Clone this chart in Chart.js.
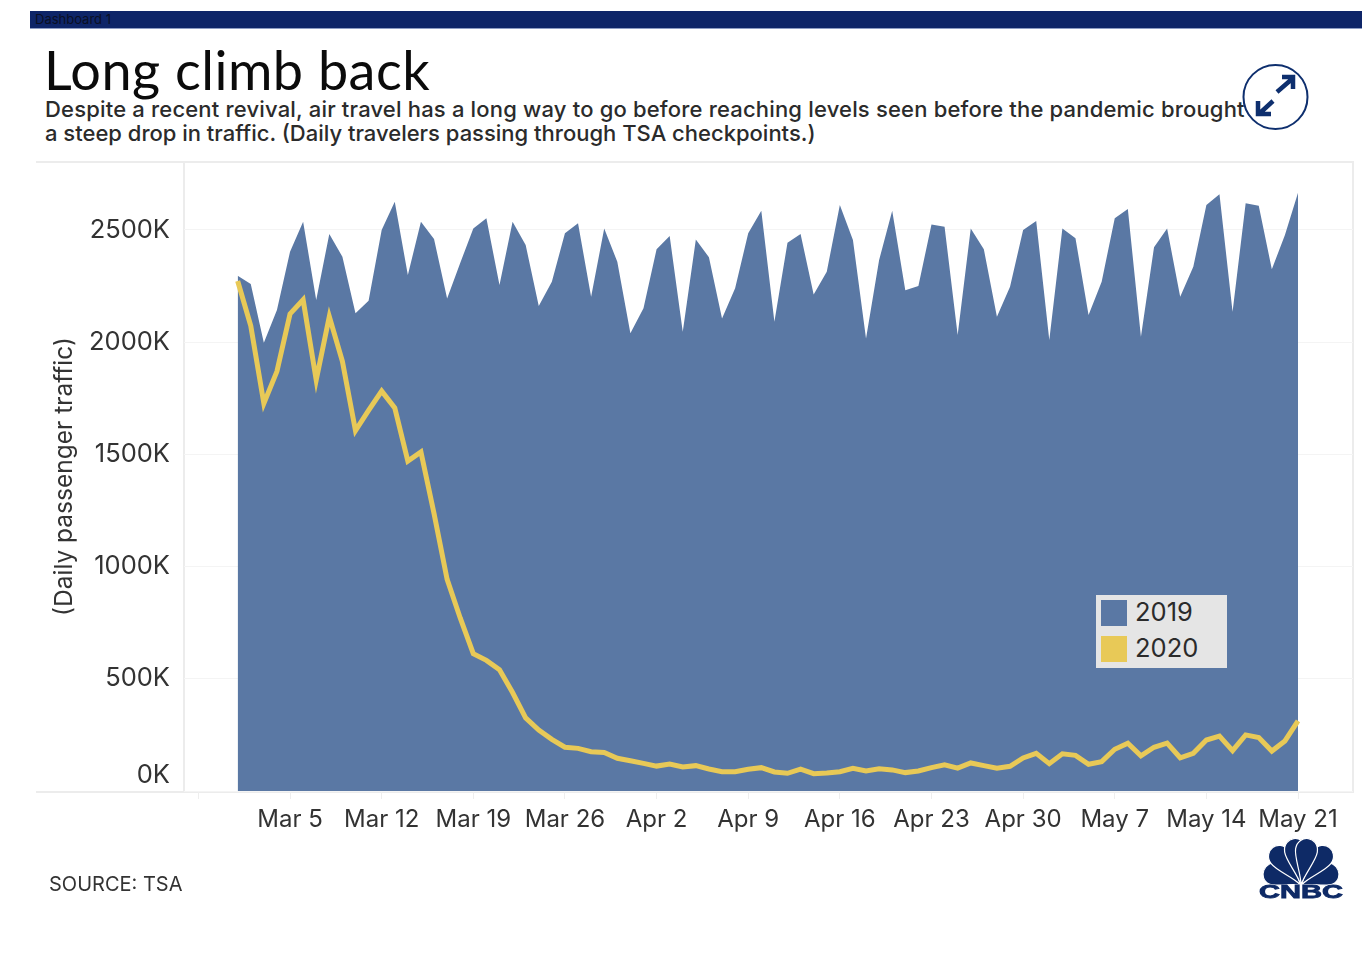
<!DOCTYPE html>
<html>
<head>
<meta charset="utf-8">
<title>Long climb back</title>
<script src="https://cdn.jsdelivr.net/npm/chart.js@4"></script>
<style>
  body { margin: 0; background: #fff; font-family: Inter, sans-serif; }
  #page { position: relative; width: 1370px; height: 962px; overflow: hidden; }
  #page > * { position: absolute; }
  #bar { left: 30px; top: 11px; width: 1332px; height: 17px; background: #0e2568; border-bottom: 1px solid #8d9cc4;
         color: #0a0f24; font-size: 13px; line-height: 16px; text-indent: 5px; }
  #title { left: 44px; top: 40px; font-family: Lato, sans-serif; font-size: 54px; letter-spacing: .5px; line-height: 60px; color: #0b0b0b; }
  #sub { left: 45px; top: 98px; font-size: 22px; line-height: 23.5px; font-weight: 500; color: #2b2b2b; white-space: nowrap; }
  #sub span { letter-spacing: .18px; }
  #source { left: 49px; top: 872px; font-size: 20px; line-height: 24px; color: #333; }
  .line { background: #ececec; }
  #chart { left: 0; top: 0; }
  #legend { left: 1096px; top: 595px; width: 131px; height: 73px; background: #e5e5e5; }
  #legend div { position: absolute; left: 39px; font-size: 25.5px; line-height: 34px; color: #2b2b2b; }
  #legend span { position: absolute; left: -34px; top: 5px; width: 26px; height: 26px; }
</style>
</head>
<body>
<div id="page">
  <div id="bar">Dashboard 1</div>
  <div id="title">Long climb back</div>
  <div id="sub"><span>Despite a recent revival, air travel has a long way to go before reaching levels seen before the pandemic brought</span><br>a steep drop in traffic. (Daily travelers passing through TSA checkpoints.)</div>
  <div class="line" style="left:36px;top:161px;width:1318px;height:2px"></div>
  <div class="line" style="left:36px;top:791px;width:1318px;height:2px"></div>
  <div class="line" style="left:183px;top:161px;width:2px;height:632px"></div>
  <div class="line" style="left:1352px;top:161px;width:2px;height:632px"></div>
  <canvas id="chart" width="1370" height="962"></canvas>
  <div id="legend"></div>
  <div id="source">SOURCE: TSA</div>
  <svg style="left:1240px;top:62px" width="72" height="70" viewBox="0 0 72 70">
    <circle cx="35.5" cy="35" r="32" fill="none" stroke="#0e2f6e" stroke-width="2"/>
    <path d="M37 30 L52 17 M42 15 H53 V27 M33 39 L20 51 M18 39 V52 H31" fill="none" stroke="#0e2f6e" stroke-width="4.5"/>
  </svg>
  <svg style="left:1256px;top:835px" width="90" height="66" viewBox="0 0 90 66">
    <defs>
      <path id="feather" d="M0 0 C-2 -12 -11 -26 -11 -35 C-11 -43 -5 -47 0 -47 C5 -47 11 -43 11 -35 C11 -26 2 -12 0 0 Z"/>
    </defs>
    <g fill="#0e2a66" stroke="#fff" stroke-width="1.2">
      <use href="#feather" transform="translate(45 50) rotate(-68) scale(1 .85)"/>
      <use href="#feather" transform="translate(45 50) rotate(68) scale(1 .85)"/>
      <use href="#feather" transform="translate(45 50) rotate(-37)"/>
      <use href="#feather" transform="translate(45 50) rotate(37)"/>
      <use href="#feather" transform="translate(45 50) rotate(-9)"/>
      <use href="#feather" transform="translate(45 50) rotate(9)"/>
    </g>
    <text x="45" y="63" text-anchor="middle" fill="#0e2a66" stroke="#0e2a66" stroke-width=".8" font-family="'Liberation Sans'" font-weight="700" font-size="18" textLength="84" lengthAdjust="spacingAndGlyphs">CNBC</text>
  </svg>
</div>

<script>
const seriesNames = ['2019', '2020'];
const seriesColors = ['#5a78a4', '#e8c957'];

const yTickValues = [0, 500, 1000, 1500, 2000, 2500];
const xTickDays = [-3, 4, 11, 18, 25, 32, 39, 46, 53, 60, 67, 74, 81];
const xTickLabels = ['', 'Mar 5', 'Mar 12', 'Mar 19', 'Mar 26', 'Apr 2', 'Apr 9', 'Apr 16', 'Apr 23', 'Apr 30', 'May 7', 'May 14', 'May 21'];

// daily travelers in thousands, one value per day from Mar 1 to May 21
const traffic2019 = [
  2296, 2259, 1998, 2143, 2403, 2537, 2188, 2482, 2381, 2129,
  2185, 2500, 2626, 2299, 2537, 2460, 2195, 2353, 2507, 2552,
  2255, 2537, 2433, 2161, 2269, 2485, 2530, 2203, 2507, 2359,
  2040, 2151, 2414, 2473, 2047, 2458, 2378, 2106, 2240, 2485,
  2586, 2091, 2443, 2482, 2213, 2314, 2611, 2455, 2017, 2366,
  2586, 2232, 2250, 2525, 2514, 2032, 2507, 2414, 2113, 2247,
  2500, 2540, 2010, 2507, 2463, 2121, 2269, 2552, 2593, 2024,
  2423, 2507, 2203, 2336, 2611, 2659, 2136, 2619, 2608, 2325,
  2478, 2666
];
const traffic2020 = [
  2273, 2073, 1727, 1870, 2126, 2189, 1832, 2114, 1915, 1606,
  1696, 1782, 1707, 1470, 1511, 1237, 943, 771, 612, 582,
  540, 439, 326, 272, 230, 195, 190, 175, 172, 146,
  135, 123, 111, 120, 107, 113, 98, 86, 86, 97,
  104, 85, 79, 97, 77, 80, 86, 101, 89, 99,
  94, 82, 89, 104, 117, 102, 125, 113, 102, 110,
  147, 168, 122, 166, 159, 119, 131, 186, 213, 157,
  195, 213, 148, 168, 227, 245, 180, 250, 238, 178,
  223, 312
];

const legendBox = document.getElementById('legend');
seriesNames.forEach((name, i) => {
  const row = document.createElement('div');
  row.style.top = i * 36 + 'px';
  row.innerHTML = `<span style="background:${seriesColors[i]}"></span>${name}`;
  legendBox.appendChild(row);
});

const toPoints = values => values.map((v, i) => ({ x: i, y: v }));

new Chart(document.getElementById('chart').getContext('2d'), {
  type: 'line',
  data: {
    datasets: [
      {
        label: seriesNames[1],
        data: toPoints(traffic2020),
        borderColor: seriesColors[1],
        borderWidth: 5,
        pointRadius: 0,
        tension: 0,
        fill: false,
        order: 0
      },
      {
        label: seriesNames[0],
        data: toPoints(traffic2019),
        borderWidth: 0,
        backgroundColor: seriesColors[0],
        pointRadius: 0,
        tension: 0,
        fill: 'origin',
        order: 1
      }
    ]
  },
  options: {
    responsive: false,
    animation: false,
    clip: false,
    layout: { padding: { top: 162, right: 17, left: 0, bottom: 0 } },
    plugins: { legend: { display: false }, tooltip: { enabled: false } },
    scales: {
      x: {
        type: 'linear',
        min: -4.1,
        max: 85.2,
        afterBuildTicks: axis => { axis.ticks = xTickDays.map(d => ({ value: d })); },
        afterFit: axis => { axis.height = 171; },
        border: { display: false },
        grid: { drawOnChartArea: false, color: '#eeeeee', tickLength: 8 },
        ticks: {
          autoSkip: false,
          maxRotation: 0,
          padding: 6,
          color: '#333333',
          font: { family: 'Inter, sans-serif', size: 24 },
          callback: (value, i) => xTickLabels[i]
        }
      },
      y: {
        min: 0,
        max: 2803,
        afterBuildTicks: axis => { axis.ticks = yTickValues.map(v => ({ value: v })); },
        afterFit: axis => { axis.width = 184; },
        border: { display: false },
        grid: { color: '#f4f4f4', drawTicks: false },
        ticks: {
          padding: 14,
          color: '#333333',
          font: { family: 'Inter, sans-serif', size: 25.5 },
          // the empty second line lifts 0K clear of the baseline
          callback: value => value === 0 ? ['0K', ''] : value + 'K'
        },
        title: {
          display: true,
          text: '(Daily passenger traffic)',
          color: '#333333',
          font: { family: 'Inter, sans-serif', size: 24.5 },
          padding: { top: 50, bottom: 0 }
        }
      }
    }
  }
});
</script>
</body>
</html>
